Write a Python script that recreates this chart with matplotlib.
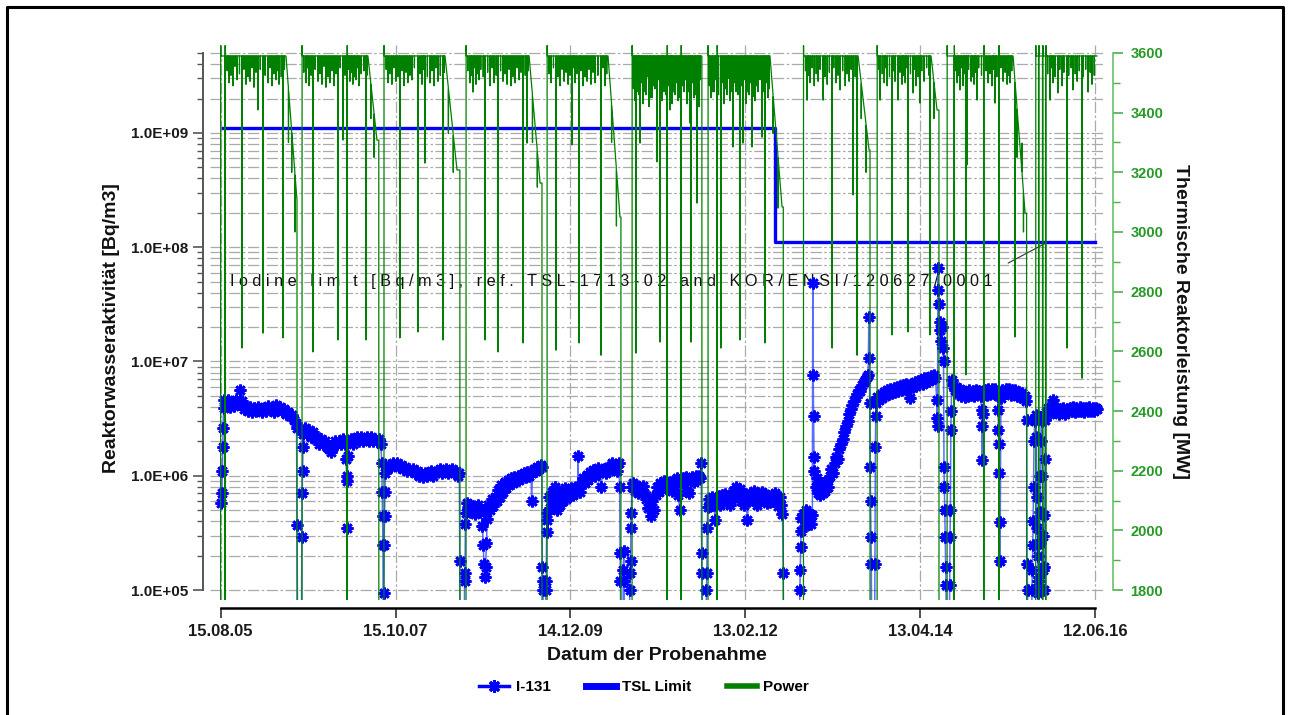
import datetime as dt
import matplotlib
matplotlib.use('Agg')
import matplotlib.pyplot as plt
import matplotlib.dates as mdates
from matplotlib.lines import Line2D
from matplotlib.ticker import FixedLocator, FuncFormatter, NullFormatter

plt.rcParams['font.family'] = ['Liberation Sans', 'DejaVu Sans']
plt.rcParams['font.weight'] = 'bold'

# x axis ticks
tick_dates = ['2005-08-15', '2007-10-15', '2009-12-14', '2012-02-13', '2014-04-13', '2016-06-12']
tick_labels = ['15.08.05', '15.10.07', '14.12.09', '13.02.12', '13.04.14', '12.06.16']

# TSL limit (step line)
tsl_dates = ['2005-08-25', '2012-06-27', '2016-06-10']
tsl_bq = [1.1e9, 1.1e8, 1.1e8]

# I-131 activity, decimal year / Bq/m3 (values under 1E+05 leave the plot)
i131_year = [
    2005.630, 2005.635, 2005.640, 2005.645, 2005.650, 2005.655, 2005.665, 2005.690,
    2005.715, 2005.740, 2005.765, 2005.790, 2005.815, 2005.840, 2005.860, 2005.880,
    2005.905, 2005.930, 2005.955, 2005.980, 2006.005, 2006.030, 2006.055, 2006.080,
    2006.105, 2006.130, 2006.155, 2006.180, 2006.205, 2006.230, 2006.255, 2006.280,
    2006.305, 2006.330, 2006.355, 2006.380, 2006.405, 2006.430, 2006.455, 2006.480,
    2006.505, 2006.530, 2006.550, 2006.560, 2006.565, 2006.575,
    2006.620, 2006.625, 2006.630, 2006.635, 2006.640, 2006.645, 2006.665, 2006.690,
    2006.715, 2006.740, 2006.765, 2006.790, 2006.815, 2006.840, 2006.865, 2006.890,
    2006.915, 2006.940, 2006.965, 2006.990, 2007.010, 2007.035, 2007.060, 2007.085,
    2007.110, 2007.135, 2007.160, 2007.175, 2007.180, 2007.185, 2007.190, 2007.195,
    2007.210, 2007.235, 2007.260, 2007.285, 2007.310, 2007.335, 2007.360, 2007.385,
    2007.410, 2007.435, 2007.460, 2007.485, 2007.510, 2007.535, 2007.560, 2007.585,
    2007.605, 2007.615, 2007.620, 2007.625, 2007.630, 2007.635,
    2007.640, 2007.645, 2007.650, 2007.655, 2007.660, 2007.680, 2007.705, 2007.730,
    2007.755, 2007.780, 2007.805, 2007.830, 2007.855, 2007.880, 2007.905, 2007.930,
    2007.955, 2007.980, 2008.005, 2008.030, 2008.055, 2008.080, 2008.105, 2008.130,
    2008.155, 2008.180, 2008.205, 2008.230, 2008.255, 2008.280, 2008.305, 2008.330,
    2008.355, 2008.380, 2008.405, 2008.430, 2008.455, 2008.480, 2008.505, 2008.530,
    2008.555, 2008.575, 2008.580, 2008.585,
    2008.635, 2008.640, 2008.645, 2008.650, 2008.655, 2008.665, 2008.685, 2008.705,
    2008.725, 2008.745, 2008.765, 2008.785, 2008.805, 2008.825, 2008.845, 2008.860,
    2008.870, 2008.880, 2008.890, 2008.900, 2008.910, 2008.920, 2008.935, 2008.955,
    2008.975, 2008.995, 2009.015, 2009.035, 2009.055, 2009.075, 2009.095, 2009.115,
    2009.135, 2009.155, 2009.175, 2009.195, 2009.215, 2009.235, 2009.255, 2009.275,
    2009.295, 2009.315, 2009.335, 2009.355, 2009.375, 2009.395, 2009.415, 2009.440,
    2009.460, 2009.470, 2009.480, 2009.500, 2009.520, 2009.540, 2009.560, 2009.580,
    2009.595, 2009.600, 2009.605, 2009.610, 2009.615,
    2009.640, 2009.645, 2009.650, 2009.655, 2009.660, 2009.665, 2009.680, 2009.700,
    2009.720, 2009.740, 2009.760, 2009.780, 2009.800, 2009.820, 2009.840, 2009.860,
    2009.880, 2009.900, 2009.920, 2009.940, 2009.960, 2009.980, 2010.000, 2010.020,
    2010.040, 2010.045, 2010.050, 2010.070, 2010.090, 2010.110, 2010.130, 2010.150,
    2010.170, 2010.190, 2010.210, 2010.230, 2010.250, 2010.270, 2010.290, 2010.310,
    2010.330, 2010.350, 2010.370, 2010.390, 2010.410, 2010.430, 2010.450, 2010.470,
    2010.490, 2010.510, 2010.530, 2010.550, 2010.560, 2010.565, 2010.570, 2010.575,
    2010.600, 2010.605, 2010.610, 2010.615, 2010.620,
    2010.680, 2010.685, 2010.690, 2010.695, 2010.700, 2010.705, 2010.710, 2010.725,
    2010.745, 2010.765, 2010.785, 2010.805, 2010.825, 2010.845, 2010.865, 2010.885,
    2010.905, 2010.925, 2010.945, 2010.965, 2010.985, 2011.005, 2011.025, 2011.045,
    2011.065, 2011.085, 2011.105, 2011.125, 2011.145, 2011.165, 2011.185, 2011.205,
    2011.225, 2011.245, 2011.265, 2011.285, 2011.305, 2011.320, 2011.340, 2011.360,
    2011.380, 2011.400, 2011.420, 2011.440, 2011.460, 2011.480, 2011.500, 2011.520,
    2011.540, 2011.560, 2011.570, 2011.575, 2011.580, 2011.585,
    2011.630, 2011.635, 2011.640, 2011.645, 2011.650, 2011.665, 2011.685, 2011.705,
    2011.725, 2011.745, 2011.765, 2011.785, 2011.805, 2011.825, 2011.845, 2011.865,
    2011.885, 2011.905, 2011.925, 2011.945, 2011.965, 2011.985, 2012.005, 2012.025,
    2012.045, 2012.065, 2012.085, 2012.105, 2012.125, 2012.140, 2012.160, 2012.180,
    2012.200, 2012.220, 2012.240, 2012.260, 2012.280, 2012.300, 2012.320, 2012.340,
    2012.360, 2012.380, 2012.400, 2012.420, 2012.440, 2012.460, 2012.480, 2012.500,
    2012.520, 2012.540, 2012.560, 2012.575, 2012.585, 2012.590,
    2012.785, 2012.790, 2012.795, 2012.800, 2012.805, 2012.810, 2012.830, 2012.850,
    2012.870, 2012.890, 2012.910, 2012.930, 2012.945, 2012.950, 2012.955, 2012.960,
    2012.965, 2012.970, 2012.985, 2013.000, 2013.015, 2013.030, 2013.045, 2013.060,
    2013.075, 2013.090, 2013.105, 2013.120, 2013.140, 2013.160, 2013.180, 2013.200,
    2013.220, 2013.240, 2013.260, 2013.280, 2013.300, 2013.320, 2013.340, 2013.360,
    2013.380, 2013.400, 2013.420, 2013.440, 2013.460, 2013.480, 2013.500, 2013.520,
    2013.540, 2013.560, 2013.580, 2013.600, 2013.620, 2013.635, 2013.645, 2013.650,
    2013.655, 2013.660, 2013.665, 2013.670, 2013.675, 2013.680,
    2013.715, 2013.720, 2013.725, 2013.730, 2013.735, 2013.750, 2013.770, 2013.790,
    2013.810, 2013.830, 2013.850, 2013.870, 2013.890, 2013.910, 2013.930, 2013.950,
    2013.970, 2013.990, 2014.010, 2014.030, 2014.050, 2014.070, 2014.090, 2014.110,
    2014.130, 2014.150, 2014.170, 2014.190, 2014.210, 2014.230, 2014.250, 2014.270,
    2014.290, 2014.310, 2014.330, 2014.350, 2014.370, 2014.390, 2014.410, 2014.430,
    2014.450, 2014.470, 2014.485, 2014.490, 2014.495, 2014.500, 2014.505, 2014.510,
    2014.520, 2014.530, 2014.540, 2014.550, 2014.560, 2014.570, 2014.575, 2014.580,
    2014.585, 2014.590, 2014.595, 2014.600, 2014.605,
    2014.640, 2014.645, 2014.650, 2014.655, 2014.660, 2014.665, 2014.670, 2014.690,
    2014.710, 2014.730, 2014.750, 2014.770, 2014.790, 2014.810, 2014.830, 2014.850,
    2014.870, 2014.890, 2014.910, 2014.930, 2014.950, 2014.970, 2014.990, 2015.010,
    2015.030, 2015.040, 2015.045, 2015.050, 2015.055, 2015.065, 2015.085, 2015.105,
    2015.125, 2015.145, 2015.165, 2015.185, 2015.205, 2015.225, 2015.240, 2015.245,
    2015.250, 2015.255, 2015.260, 2015.265, 2015.270, 2015.280, 2015.300, 2015.320,
    2015.340, 2015.360, 2015.380, 2015.400, 2015.420, 2015.440, 2015.460, 2015.480,
    2015.500, 2015.520, 2015.540, 2015.560, 2015.580, 2015.595, 2015.600, 2015.605,
    2015.610, 2015.615,
    2015.660, 2015.665, 2015.670, 2015.675, 2015.680, 2015.685, 2015.690, 2015.700,
    2015.710, 2015.720, 2015.725, 2015.730, 2015.735, 2015.740, 2015.745, 2015.755,
    2015.760, 2015.765, 2015.770, 2015.775, 2015.780, 2015.790, 2015.795, 2015.800,
    2015.805, 2015.810, 2015.815, 2015.820, 2015.825, 2015.830, 2015.845, 2015.865,
    2015.885, 2015.905, 2015.920, 2015.935, 2015.955, 2015.975, 2015.995, 2016.015,
    2016.035, 2016.055, 2016.075, 2016.095, 2016.115, 2016.135, 2016.155, 2016.175,
    2016.195, 2016.215, 2016.235, 2016.255, 2016.275, 2016.295, 2016.315, 2016.335,
    2016.355, 2016.375, 2016.395, 2016.415, 2016.435, 2016.455, 2016.470,
]
i131_bq = [
    5.8e5, 7.1e5, 1.1e6, 1.8e6, 2.6e6, 3.9e6, 4.6e6, 4.2e6,
    4.6e6, 4.0e6, 4.4e6, 4.1e6, 4.6e6, 4.3e6, 5.6e6, 4.5e6,
    3.8e6, 4.1e6, 3.7e6, 4.0e6, 3.6e6, 3.9e6, 3.7e6, 4.0e6,
    3.8e6, 3.6e6, 3.9e6, 3.7e6, 4.1e6, 3.8e6, 3.9e6, 3.6e6,
    4.2e6, 3.8e6, 4.0e6, 3.7e6, 3.8e6, 3.5e6, 3.6e6, 3.3e6,
    3.4e6, 3.1e6, 2.9e6, 2.6e6, 3.7e5, 3.0e4,
    3.0e4, 2.9e5, 7.0e5, 1.1e6, 1.8e6, 2.3e6, 2.6e6, 2.3e6,
    2.5e6, 2.2e6, 2.4e6, 2.1e6, 2.2e6, 1.9e6, 2.1e6, 1.9e6,
    2.0e6, 1.8e6, 1.7e6, 1.6e6, 1.8e6, 2.0e6, 1.9e6, 2.0e6,
    1.9e6, 2.1e6, 1.9e6, 1.4e6, 9.0e5, 3.5e5, 1.0e6, 1.5e6,
    2.0e6, 2.1e6, 1.9e6, 2.1e6, 2.2e6, 2.0e6, 2.2e6, 2.0e6,
    2.1e6, 2.2e6, 2.0e6, 2.2e6, 2.0e6, 2.1e6, 2.0e6, 2.1e6,
    1.9e6, 1.3e6, 7.2e5, 4.4e5, 2.5e5, 3.0e4,
    9.5e4, 2.5e5, 4.4e5, 7.2e5, 1.05e6, 1.15e6, 1.25e6, 1.2e6,
    1.3e6, 1.25e6, 1.3e6, 1.2e6, 1.25e6, 1.15e6, 1.2e6, 1.1e6,
    1.15e6, 1.1e6, 1.15e6, 1.05e6, 1.1e6, 1.0e6, 1.05e6, 9.8e5,
    1.05e6, 1.0e6, 1.05e6, 1.1e6, 1.0e6, 1.05e6, 1.1e6, 1.15e6,
    1.05e6, 1.1e6, 1.15e6, 1.05e6, 1.1e6, 1.15e6, 1.05e6, 1.1e6,
    1.0e6, 1.05e6, 1.8e5, 3.0e4,
    3.0e4, 1.2e5, 1.4e5, 3.8e5, 4.7e5, 5.8e5, 5.2e5, 5.6e5,
    4.8e5, 5.4e5, 4.6e5, 5.2e5, 5.6e5, 4.8e5, 5.0e5, 3.6e5,
    2.5e5, 1.7e5, 1.3e5, 1.6e5, 2.6e5, 4.2e5, 5.6e5, 5.0e5,
    6.2e5, 5.4e5, 6.5e5, 6.0e5, 7.5e5, 6.5e5, 8.3e5, 7.2e5,
    8.8e5, 7.8e5, 9.2e5, 8.3e5, 9.5e5, 8.6e5, 9.8e5, 9.0e5,
    1.0e6, 9.2e5, 1.02e6, 9.5e5, 1.05e6, 9.8e5, 1.08e6, 1.0e6,
    1.1e6, 6.0e5, 1.05e6, 1.15e6, 1.1e6, 1.2e6, 1.15e6, 1.25e6,
    1.2e6, 1.6e5, 1.2e5, 1.0e5, 3.0e4,
    3.0e4, 1.0e5, 1.2e5, 3.2e5, 4.1e5, 4.7e5, 6.5e5, 5.2e5,
    7.2e5, 5.8e5, 7.9e5, 5.0e5, 6.8e5, 5.5e5, 7.5e5, 6.0e5,
    7.8e5, 6.3e5, 7.5e5, 6.6e5, 7.8e5, 6.8e5, 7.6e5, 7.0e5,
    8.0e5, 1.5e6, 8.2e5, 7.2e5, 8.8e5, 9.5e5, 8.6e5, 1.02e6,
    9.2e5, 1.08e6, 9.8e5, 1.12e6, 1.0e6, 1.1e6, 1.18e6, 1.05e6,
    8.0e5, 1.1e6, 1.15e6, 1.05e6, 1.2e6, 1.1e6, 1.2e6, 1.3e6,
    1.15e6, 1.25e6, 1.1e6, 1.3e6, 8.0e5, 2.1e5, 1.2e5, 3.0e4,
    3.0e4, 1.5e5, 2.2e5, 1.2e5, 3.0e4,
    3.0e4, 1.0e5, 1.4e5, 1.8e5, 3.5e5, 4.7e5, 7.9e5, 8.6e5,
    7.4e5, 8.3e5, 7.1e5, 8.0e5, 7.5e5, 8.2e5, 7.0e5, 6.2e5,
    5.2e5, 6.5e5, 4.4e5, 6.0e5, 5.0e5, 6.8e5, 8.0e5, 7.2e5,
    8.6e5, 7.6e5, 9.0e5, 7.9e5, 8.5e5, 7.6e5, 8.8e5, 7.4e5,
    9.0e5, 8.2e5, 9.5e5, 6.8e5, 5.0e5, 8.6e5, 9.5e5, 8.5e5,
    9.8e5, 7.4e5, 7.0e5, 9.0e5, 9.8e5, 8.8e5, 1.0e6, 9.2e5,
    1.0e6, 9.5e5, 1.3e6, 2.1e5, 1.4e5, 3.0e4,
    3.0e4, 1.0e5, 1.4e5, 3.5e5, 5.3e5, 6.2e5, 5.4e5, 6.5e5,
    5.5e5, 4.1e5, 5.8e5, 6.6e5, 5.6e5, 6.8e5, 5.8e5, 6.9e5,
    5.9e5, 6.5e5, 5.5e5, 6.2e5, 7.4e5, 6.5e5, 7.9e5, 6.8e5,
    7.6e5, 6.0e5, 7.0e5, 5.5e5, 6.4e5, 4.1e5, 6.0e5, 7.0e5,
    6.2e5, 7.3e5, 6.4e5, 5.6e5, 6.8e5, 6.0e5, 7.2e5, 6.2e5,
    6.9e5, 5.8e5, 6.6e5, 5.9e5, 6.8e5, 6.0e5, 7.0e5, 6.2e5,
    5.4e5, 6.5e5, 5.6e5, 4.6e5, 1.4e5, 3.0e4,
    3.0e4, 1.0e5, 1.5e5, 2.4e5, 3.3e5, 4.3e5, 4.6e5, 3.6e5,
    5.0e5, 4.0e5, 4.6e5, 3.8e5, 4.5e5, 4.85e7, 7.6e6, 3.3e6,
    1.45e6, 1.1e6, 8.0e5, 9.5e5, 7.0e5, 8.5e5, 6.8e5, 8.0e5,
    7.0e5, 8.2e5, 7.4e5, 9.0e5, 8.0e5, 1.0e6, 1.15e6, 1.05e6,
    1.3e6, 1.45e6, 1.4e6, 1.7e6, 1.9e6, 2.1e6, 2.4e6, 2.7e6,
    3.0e6, 3.5e6, 3.8e6, 4.2e6, 4.5e6, 4.9e6, 5.2e6, 5.6e6,
    5.5e6, 6.2e6, 6.6e6, 6.9e6, 7.3e6, 7.6e6, 2.45e7, 1.07e7,
    4.3e6, 1.2e6, 6.0e5, 2.9e5, 1.7e5, 3.0e4,
    3.0e4, 1.7e5, 1.8e6, 3.3e6, 4.3e6, 4.9e6, 4.6e6, 5.2e6,
    4.8e6, 5.4e6, 5.0e6, 5.6e6, 5.2e6, 5.7e6, 5.3e6, 5.9e6,
    5.4e6, 6.0e6, 5.5e6, 6.1e6, 5.6e6, 6.2e6, 5.8e6, 6.3e6,
    5.9e6, 4.8e6, 6.4e6, 6.0e6, 6.6e6, 6.1e6, 6.8e6, 6.3e6,
    6.9e6, 6.4e6, 7.1e6, 6.6e6, 7.2e6, 6.8e6, 7.4e6, 7.0e6,
    7.6e6, 7.2e6, 4.6e6, 3.2e6, 2.7e6, 6.6e7, 4.2e7, 3.2e7,
    2.2e7, 1.9e7, 1.5e7, 2.0e7, 1.3e7, 1.0e7, 1.2e6, 8.0e5,
    5.0e5, 2.9e5, 1.6e5, 1.1e5, 3.0e4,
    3.0e4, 1.1e5, 2.9e5, 5.0e5, 2.5e6, 3.7e6, 6.9e6, 6.2e6,
    5.6e6, 6.0e6, 5.2e6, 5.7e6, 5.0e6, 5.5e6, 4.9e6, 5.4e6,
    5.0e6, 5.6e6, 5.1e6, 5.5e6, 5.0e6, 5.6e6, 5.2e6, 5.5e6,
    5.0e6, 3.75e6, 2.7e6, 1.37e6, 3.5e6, 5.3e6, 5.6e6, 5.1e6,
    5.7e6, 5.2e6, 5.8e6, 5.3e6, 5.7e6, 5.2e6, 5.0e6, 3.75e6,
    2.5e6, 1.9e6, 1.05e6, 3.9e5, 1.8e5, 4.8e6, 5.6e6, 5.2e6,
    5.8e6, 5.3e6, 5.7e6, 5.1e6, 5.6e6, 5.2e6, 5.6e6, 5.0e6,
    5.4e6, 4.9e6, 5.3e6, 4.8e6, 5.0e6, 4.5e6, 3.1e6, 1.7e5,
    1.0e5, 3.0e4,
    3.0e4, 1.0e5, 1.5e5, 2.5e5, 4.0e5, 8.0e5, 2.0e6, 3.0e6,
    3.4e6, 2.2e6, 6.5e5, 3.5e5, 2.0e5, 1.2e5, 9.5e4, 1.3e5,
    2.6e5, 4.8e5, 1.0e6, 2.0e6, 3.2e6, 3.0e6, 1.0e6, 3.0e5,
    1.5e5, 1.0e5, 1.6e5, 4.5e5, 1.4e6, 3.1e6, 3.6e6, 3.9e6,
    3.5e6, 4.0e6, 4.6e6, 3.8e6, 3.6e6, 3.9e6, 3.5e6, 3.8e6,
    3.6e6, 3.9e6, 3.5e6, 3.8e6, 3.6e6, 3.9e6, 3.7e6, 4.0e6,
    3.6e6, 3.9e6, 3.7e6, 4.0e6, 3.7e6, 3.9e6, 3.6e6, 3.9e6,
    3.7e6, 4.0e6, 3.7e6, 3.9e6, 3.7e6, 3.9e6, 3.8e6,
]

# thermal power [MW]
power_base = 3590
power_restart = 3625
power_first_year = 2005.620
power_last_year = 2016.470
# outages / trips (power to zero)
outage_start = [2005.671, 2006.567, 2007.184, 2007.580, 2008.583, 2009.599, 2010.577,
                2011.146, 2011.319, 2011.580, 2011.765, 2012.587, 2013.660, 2014.514,
                2014.700, 2015.068, 2015.254, 2015.600, 2015.748, 2015.797, 2015.835]
outage_end = [2005.674, 2006.627, 2007.186, 2007.642, 2008.657, 2009.660, 2010.713,
              2011.148, 2011.321, 2011.654, 2011.767, 2012.834, 2013.746, 2014.613,
              2014.702, 2015.070, 2015.256, 2015.711, 2015.750, 2015.799, 2015.837]
# end-of-cycle coast downs
coast_start = [2006.429, 2007.444, 2008.398, 2009.438, 2010.416, 2012.421, 2013.511, 2014.415, 2015.431]
coast_end = [2006.565, 2007.556, 2008.546, 2009.574, 2010.564, 2012.570, 2013.647, 2014.489, 2015.580]
coast_mw = [3107, 3308, 3208, 3164, 3050, 3084, 3275, 3409, 3063]
# power reductions (deep, medium, shallow, during coast down)
dip_year = [
    2005.884, 2006.144, 2006.391, 2006.763, 2007.072, 2007.419, 2007.840, 2008.063,
    2008.373, 2008.893, 2009.054, 2009.363, 2009.772, 2010.057, 2010.329, 2010.762,
    2011.059, 2011.443, 2011.814, 2012.050, 2012.359, 2013.189, 2013.499, 2013.932,
    2014.130, 2014.402, 2014.848, 2015.455, 2016.099, 2016.285,
    2006.082, 2007.135, 2008.150, 2008.744, 2009.413, 2009.970, 2010.812, 2011.022,
    2011.183, 2011.431, 2011.518, 2011.963, 2012.087, 2012.199, 2012.322, 2012.880,
    2013.078, 2013.288, 2013.449, 2013.783, 2014.006, 2014.192, 2014.278, 2014.774,
    2014.861, 2014.985, 2015.207, 2015.542, 2015.888, 2015.987, 2016.173, 2016.359,
    2005.723, 2005.772, 2005.822, 2005.933, 2005.983, 2006.032, 2006.206, 2006.255,
    2006.305, 2006.342, 2006.676, 2006.713, 2006.825, 2006.874, 2006.924, 2006.973,
    2007.023, 2007.221, 2007.258, 2007.295, 2007.333, 2007.692, 2007.741, 2007.791,
    2007.890, 2007.939, 2007.989, 2008.113, 2008.212, 2008.261, 2008.311, 2008.707,
    2008.781, 2008.819, 2008.955, 2009.004, 2009.116, 2009.165, 2009.215, 2009.264,
    2009.314, 2009.710, 2009.822, 2009.871, 2009.921, 2010.007, 2010.106, 2010.156,
    2010.205, 2010.255, 2010.379, 2010.750, 2010.787, 2010.849, 2010.886, 2010.924,
    2010.961, 2010.998, 2011.085, 2011.109, 2011.209, 2011.246, 2011.283, 2011.357,
    2011.394, 2011.481, 2011.543, 2011.691, 2011.729, 2011.852, 2011.890, 2011.927,
    2012.001, 2012.125, 2012.162, 2012.236, 2012.273, 2012.397, 2012.917, 2012.967,
    2013.016, 2013.128, 2013.239, 2013.351, 2013.400, 2013.834, 2013.871, 2013.970,
    2014.056, 2014.094, 2014.230, 2014.329, 2014.738, 2014.812, 2014.911, 2014.948,
    2015.122, 2015.171, 2015.307, 2015.357, 2015.394, 2015.926, 2016.038, 2016.224,
    2016.409,
    2006.460, 2006.500, 2006.540, 2007.480, 2007.520, 2008.440, 2008.500, 2009.480,
    2009.540, 2010.460, 2010.520, 2012.460, 2012.520, 2013.550, 2013.610, 2014.450,
    2015.480, 2015.560,
]
dip_mw = [
    2611, 2661, 2645, 2598, 2638, 2638, 2645, 2665,
    2638, 2638, 2598, 2628, 2604, 2628, 2587, 2594,
    2631, 2631, 2611, 2638, 2628, 2611, 2587, 2655,
    2665, 2655, 2521, 2648, 2611, 2510,
    3409, 3308, 3231, 3469, 3298, 3292, 3298, 3235,
    3409, 3365, 3097, 3285, 3298, 3285, 3318, 3442,
    3442, 3476, 3124, 3442, 3442, 3466, 3432, 3476,
    3225, 3442, 3432, 3298, 3442, 3466, 3476, 3469,
    3500, 3490, 3510, 3495, 3505, 3485, 3500, 3490,
    3510, 3495, 3500, 3490, 3505, 3495, 3485, 3500,
    3490, 3505, 3495, 3510, 3490, 3500, 3495, 3505,
    3490, 3500, 3510, 3495, 3500, 3490, 3505, 3500,
    3495, 3510, 3490, 3500, 3505, 3495, 3490, 3500,
    3510, 3500, 3490, 3505, 3495, 3500, 3490, 3505,
    3495, 3500, 3490, 3440, 3470, 3430, 3460, 3420,
    3450, 3480, 3440, 3470, 3430, 3460, 3440, 3470,
    3430, 3450, 3420, 3450, 3470, 3430, 3460, 3440,
    3470, 3430, 3460, 3440, 3470, 3450, 3500, 3490,
    3505, 3495, 3500, 3490, 3505, 3500, 3490, 3505,
    3495, 3500, 3490, 3505, 3500, 3490, 3505, 3495,
    3500, 3490, 3505, 3495, 3500, 3500, 3490, 3505,
    3495,
    3300, 3200, 3000, 3380, 3250, 3330, 3200, 3300,
    3150, 3300, 3020, 3330, 3080, 3380, 3200, 3380,
    3250, 3000,
]
# small ripples on the full power level
ripple_year = [
    2005.700, 2005.747, 2005.797, 2005.853, 2005.908, 2005.958, 2006.007, 2006.057,
    2006.110, 2006.170, 2006.230, 2006.280, 2006.322, 2006.370, 2006.410,
    2006.650, 2006.695, 2006.740, 2006.790, 2006.850, 2006.900, 2006.950, 2006.998,
    2007.048, 2007.100, 2007.160, 2007.200, 2007.240, 2007.278, 2007.315, 2007.360,
    2007.395, 2007.432,
    2007.670, 2007.716, 2007.766, 2007.815, 2007.865, 2007.915, 2007.964, 2008.020,
    2008.088, 2008.135, 2008.180, 2008.236, 2008.286, 2008.340, 2008.388,
    2008.680, 2008.725, 2008.762, 2008.800, 2008.840, 2008.870, 2008.925, 2008.980,
    2009.030, 2009.085, 2009.140, 2009.190, 2009.240, 2009.290, 2009.338, 2009.390,
    2009.428,
    2009.685, 2009.740, 2009.797, 2009.846, 2009.896, 2009.945, 2009.990, 2010.030,
    2010.080, 2010.131, 2010.180, 2010.230, 2010.290, 2010.355, 2010.400,
    2010.730, 2010.770, 2010.800, 2010.830, 2010.868, 2010.905, 2010.942, 2010.980,
    2011.040, 2011.070, 2011.097, 2011.130, 2011.165, 2011.195, 2011.228, 2011.265,
    2011.300, 2011.338, 2011.375, 2011.412, 2011.462, 2011.500, 2011.530, 2011.560,
    2011.672, 2011.710, 2011.748, 2011.785, 2011.832, 2011.872, 2011.908, 2011.945,
    2011.982, 2012.025, 2012.068, 2012.105, 2012.143, 2012.180, 2012.218, 2012.255,
    2012.298, 2012.340, 2012.378, 2012.410,
    2012.860, 2012.898, 2012.942, 2012.992, 2013.040, 2013.100, 2013.155, 2013.210,
    2013.262, 2013.320, 2013.375, 2013.425, 2013.475,
    2013.765, 2013.810, 2013.852, 2013.900, 2013.950, 2014.030, 2014.075, 2014.112,
    2014.160, 2014.210, 2014.255, 2014.300, 2014.360, 2014.390,
    2014.720, 2014.756, 2014.793, 2014.830, 2014.880, 2014.930, 2014.966, 2015.005,
    2015.040, 2015.095, 2015.146, 2015.190, 2015.230, 2015.280, 2015.332, 2015.375,
    2015.415,
    2015.860, 2015.905, 2015.950, 2016.010, 2016.060, 2016.120, 2016.150, 2016.200,
    2016.250, 2016.300, 2016.330, 2016.385, 2016.435,
]
ripple_mw = [
    3540, 3525, 3555, 3530, 3545, 3520, 3550, 3535,
    3545, 3525, 3550, 3530, 3540, 3520, 3545,
    3535, 3550, 3525, 3545, 3530, 3555, 3520, 3540,
    3530, 3550, 3525, 3545, 3535, 3520, 3550, 3530,
    3540, 3525,
    3545, 3530, 3550, 3520, 3540, 3535, 3525, 3550,
    3530, 3545, 3520, 3540, 3550, 3525, 3535,
    3540, 3525, 3550, 3530, 3545, 3520, 3535, 3550,
    3525, 3540, 3530, 3545, 3520, 3550, 3535, 3525,
    3540,
    3530, 3550, 3520, 3545, 3535, 3525, 3550, 3530,
    3540, 3520, 3545, 3535, 3525, 3550, 3530,
    3480, 3510, 3460, 3500, 3470, 3520, 3450, 3490,
    3510, 3470, 3500, 3460, 3490, 3515, 3470, 3500,
    3450, 3490, 3510, 3470, 3500, 3460, 3490, 3510,
    3490, 3470, 3510, 3460, 3500, 3480, 3515, 3470,
    3500, 3460, 3490, 3510, 3470, 3500, 3455, 3490,
    3510, 3470, 3500, 3480,
    3540, 3525, 3550, 3530, 3545, 3520, 3535, 3550,
    3525, 3540, 3530, 3545, 3520,
    3545, 3530, 3550, 3520, 3540, 3535, 3525, 3550,
    3530, 3545, 3520, 3540, 3550, 3525,
    3540, 3525, 3550, 3530, 3545, 3520, 3535, 3550,
    3525, 3540, 3530, 3545, 3520, 3550, 3535, 3525,
    3540,
    3530, 3550, 3520, 3545, 3535, 3525, 3550, 3530,
    3540, 3520, 3545, 3535, 3525,
]


def to_date(y):
    year = int(y)
    start = dt.datetime(year, 1, 1)
    length = (dt.datetime(year + 1, 1, 1) - start).days
    return start + dt.timedelta(days=(y - year) * length)


def base_at(t):
    for cs, ce, cp in zip(coast_start, coast_end, coast_mw):
        if cs <= t <= ce:
            return power_base + (cp - power_base) * (t - cs) / (ce - cs)
        if ce < t <= ce + 0.04:
            return cp
    return power_base


# build the power polyline from the events
d = 0.0015
pts = [(power_first_year - 0.002, 0.0), (power_first_year, power_restart),
       (power_first_year + d, power_base)]
for s, e in zip(outage_start, outage_end):
    pts += [(s - d, base_at(s - d)), (s, 0.0), (e, 0.0),
            (e + d, power_restart), (e + 2 * d, power_base)]
for t, p in zip(dip_year + ripple_year, dip_mw + ripple_mw):
    pts += [(t - d, base_at(t - d)), (t, p), (t + d, base_at(t + d))]
for cs, ce, cp in zip(coast_start, coast_end, coast_mw):
    pts += [(cs, power_base), (ce, cp)]
pts.append((power_last_year, power_base))
pts.sort(key=lambda p: p[0])
power_x = [to_date(p[0]) for p in pts]
power_mw = [p[1] for p in pts]

i131_x = [to_date(y) for y in i131_year]
tick_x = [dt.datetime.strptime(s, '%Y-%m-%d') for s in tick_dates]
tsl_x = [dt.datetime.strptime(s, '%Y-%m-%d') for s in tsl_dates]

BLUE = '#0000ff'
GREEN = '#008000'

fig = plt.figure(figsize=(12.9, 7.15), dpi=100)
ax = fig.add_axes([210 / 1290, 1 - 600 / 715, 895 / 1290, 557 / 715])
ax2 = ax.twinx()

ax.set_yscale('log')
ax.set_ylim(8.18e4, 6.12e9)
ax2.set_ylim(1766.5, 3633.5)
ax.set_xlim(tick_x[0] - dt.timedelta(days=48), tick_x[-1] + dt.timedelta(days=45))

# grid
grid_style = dict(color='#aaaaaa', lw=0.9, linestyle=(0, (9, 2, 2, 2)))
ax.grid(True, which='both', axis='y', **grid_style)
ax.grid(True, which='major', axis='x', **grid_style)
ax.set_axisbelow(True)

# data
ax.plot(tsl_x, tsl_bq, color=BLUE, lw=2.4, drawstyle='steps-post', zorder=3)
ax.plot(i131_x, i131_bq, color='#3048ff', lw=1.1, alpha=0.8, zorder=4)
ax.plot(i131_x, i131_bq, ls='none', marker=(8, 2, 0), ms=8.5, mew=1.9,
        mec=BLUE, mfc=BLUE, zorder=5)
ax2.plot(power_x, power_mw, color=GREEN, lw=0.9)

# annotation for the limit
note = 'Iodine limit [Bq/m3], ref. TSL-1713-02 and KOR/ENSI/120627/0001'
ax.text(0.0223, 0.5727, ' '.join(note), transform=ax.transAxes, fontsize=11.7,
        fontweight='normal', ha='left', va='center', color='#111111', zorder=2)
ax.annotate('', xy=(to_date(2015.85), tsl_bq[-1]), xytext=(to_date(2015.37), 7.26e7),
            arrowprops=dict(arrowstyle='-', color='#333333', lw=0.8,
                            shrinkA=0, shrinkB=0))

# left axis
major_bq = [10.0 ** k for k in range(5, 10)]
minor_bq = [m * 10.0 ** k for k in range(5, 10) for m in range(2, 10) if m * 10.0 ** k <= 5e9]
ax.yaxis.set_major_locator(FixedLocator(major_bq))
ax.yaxis.set_minor_locator(FixedLocator(minor_bq))
ax.yaxis.set_major_formatter(FuncFormatter(lambda v, p: f'{v:.1E}'))
ax.yaxis.set_minor_formatter(NullFormatter())
ax.tick_params(axis='y', which='major', length=7, width=1.2, color='#555555',
               pad=3.5, labelsize=11, labelcolor='#1a1a1a')
ax.tick_params(axis='y', which='minor', length=4.3, width=1.0, color='#555555')

# right axis
ax2.yaxis.set_major_locator(FixedLocator(list(range(1800, 3601, 200))))
ax2.yaxis.set_minor_locator(FixedLocator(list(range(1900, 3600, 200))))
ax2.tick_params(axis='y', which='major', length=7.2, width=1.2, color='#4caf4c',
                pad=5, labelsize=10.5, labelcolor='#269926')
ax2.tick_params(axis='y', which='minor', length=5, width=1.0, color='#4caf4c')

# x axis
ax.set_xticks(tick_x)
ax.set_xticklabels(tick_labels)
ax.xaxis.set_minor_locator(FixedLocator([]))
ax.tick_params(axis='x', length=7.2, width=1.2, color='#333333', pad=4,
               labelsize=12, labelcolor='#1a1a1a')

# spines
for a in (ax, ax2):
    a.spines['top'].set_visible(False)
ax.spines['right'].set_visible(False)
ax2.spines['left'].set_visible(False)
ax2.spines['bottom'].set_visible(False)
ax.spines['left'].set_position(('outward', 5))
ax.spines['left'].set_bounds(1e5, 5e9)
ax.spines['left'].set_color('#555555')
ax.spines['left'].set_linewidth(1.4)
ax.spines['bottom'].set_position(('outward', 6))
ax.spines['bottom'].set_bounds(mdates.date2num(tick_x[0]), mdates.date2num(tick_x[-1]))
ax.spines['bottom'].set_color('black')
ax.spines['bottom'].set_linewidth(1.8)
ax2.spines['right'].set_position(('outward', 6))
ax2.spines['right'].set_bounds(1800, 3600)
ax2.spines['right'].set_color('#6abf6a')
ax2.spines['right'].set_linewidth(1.2)

# axis titles
fig.text(112 / 1290, 1 - 328 / 715, 'Reaktorwasseraktivität [Bq/m3]', rotation=90,
         ha='center', va='center', fontsize=14, color='#111111')
fig.text(1180 / 1290, 1 - 321 / 715, 'Thermische Reaktorleistung [MW]', rotation=270,
         ha='center', va='center', fontsize=14, color='#111111')
fig.text(657 / 1290, 1 - 656 / 715, 'Datum der Probenahme',
         ha='center', va='center', fontsize=14, color='#111111')

# legend
handles = [Line2D([], [], color=BLUE, lw=2.5, marker=(8, 2, 0), ms=9, mew=2.2),
           Line2D([], [], color=BLUE, lw=5),
           Line2D([], [], color=GREEN, lw=4)]
fig.legend(handles, ['I-131', 'TSL Limit', 'Power'], loc='center',
           bbox_to_anchor=(644 / 1290, 1 - 687 / 715), ncol=3, frameon=False,
           prop={'weight': 'bold', 'size': 11}, handlelength=2.0, handletextpad=0.4,
           columnspacing=2.3, numpoints=1)

# outer frame
fig.add_artist(Line2D([7 / 1290, 7 / 1290, 1283 / 1290, 1283 / 1290],
                      [0, 1 - 7 / 715, 1 - 7 / 715, 0],
                      transform=fig.transFigure, color='black', lw=2.2))

fig.savefig('out.png', dpi=100)
